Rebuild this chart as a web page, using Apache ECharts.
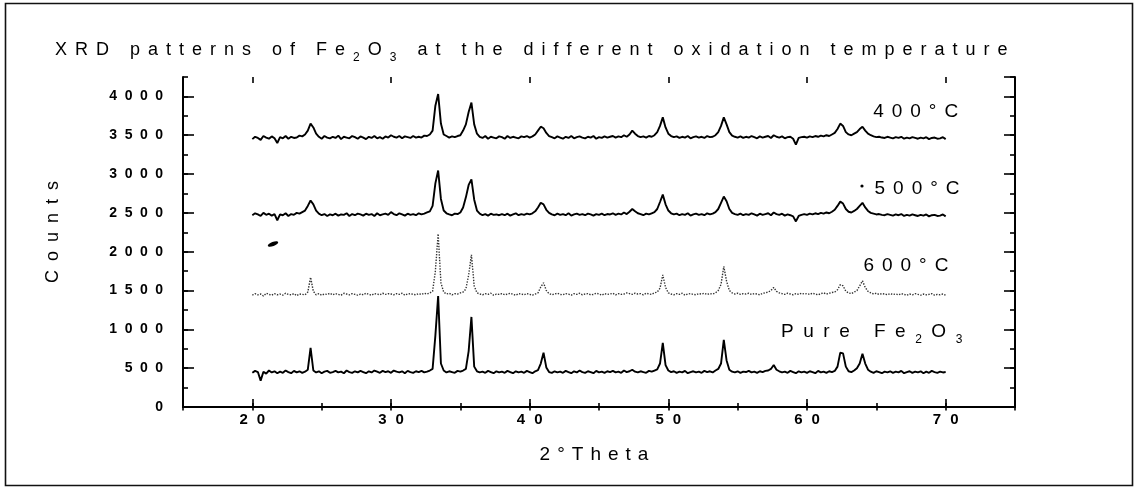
<!DOCTYPE html>
<html><head><meta charset="utf-8">
<script src="https://cdn.jsdelivr.net/npm/echarts@6/dist/echarts.min.js"></script>
<style>html,body{margin:0;padding:0;background:#fff}#c{width:1138px;height:487px}</style>
</head><body><div id="c"></div>
<script>
// ---- data (2θ grid: 20.0 .. 70.0, step 0.2) ----
const X_START = 20, X_STEP = 0.2;
const T400 = [
3450,3480,3465,3440,3490,3470,3455,3485,3460,3400,
3475,3460,3490,3455,3480,3465,3470,3495,3485,3510,
3560,3650,3600,3520,3480,3455,3490,3470,3460,3480,
3465,3495,3450,3480,3470,3460,3490,3475,3455,3485,
3470,3450,3480,3465,3490,3460,3475,3455,3485,3470,
3500,3480,3470,3490,3460,3485,3475,3465,3490,3470,
3480,3470,3495,3490,3510,3560,3880,4030,3650,3510,
3490,3470,3485,3475,3490,3500,3560,3640,3800,3920,
3640,3520,3480,3465,3490,3455,3480,3470,3460,3485,
3475,3455,3490,3465,3480,3470,3460,3485,3475,3490,
3470,3485,3510,3560,3610,3590,3530,3490,3475,3460,
3485,3470,3455,3480,3465,3490,3460,3475,3485,3470,
3460,3480,3470,3490,3455,3475,3465,3485,3470,3480,
3490,3470,3485,3475,3500,3480,3510,3560,3520,3490,
3475,3485,3470,3490,3480,3500,3540,3620,3730,3600,
3520,3490,3475,3485,3465,3480,3470,3490,3460,3475,
3485,3470,3480,3465,3490,3475,3480,3500,3540,3620,
3730,3640,3540,3495,3480,3470,3485,3465,3480,3470,
3490,3475,3460,3485,3470,3480,3490,3465,3500,3480,
3470,3485,3460,3475,3480,3455,3380,3465,3475,3480,
3470,3485,3475,3490,3480,3495,3485,3500,3490,3510,
3530,3580,3650,3620,3540,3510,3500,3520,3540,3580,
3610,3560,3520,3500,3485,3475,3480,3470,3465,3480,
3470,3460,3475,3465,3480,3455,3470,3460,3475,3465,
3455,3470,3460,3475,3450,3465,3470,3455,3460,3475,3450];
const T500 = [
2470,2495,2480,2460,2500,2475,2490,2465,2485,2405,
2480,2470,2495,2460,2485,2475,2500,2490,2510,2530,
2590,2660,2610,2530,2490,2470,2485,2460,2480,2470,
2490,2465,2480,2475,2495,2460,2485,2470,2490,2480,
2465,2490,2475,2485,2460,2495,2470,2480,2490,2475,
2510,2485,2470,2495,2480,2465,2490,2475,2485,2470,
2495,2480,2490,2505,2520,2590,2880,3045,2680,2530,
2495,2480,2470,2490,2485,2505,2570,2700,2860,2930,
2670,2530,2490,2470,2485,2465,2490,2475,2480,2470,
2485,2470,2490,2465,2480,2495,2470,2485,2475,2490,
2480,2495,2520,2570,2630,2610,2540,2500,2480,2470,
2490,2475,2485,2470,2495,2465,2480,2490,2475,2485,
2470,2490,2480,2465,2485,2475,2490,2470,2485,2480,
2495,2475,2490,2480,2505,2485,2515,2550,2520,2495,
2485,2470,2490,2480,2495,2510,2550,2640,2735,2610,
2530,2495,2480,2490,2470,2485,2475,2495,2465,2480,
2490,2475,2485,2470,2495,2480,2490,2510,2550,2630,
2710,2650,2550,2500,2485,2475,2490,2470,2485,2475,
2495,2480,2465,2490,2475,2485,2495,2470,2505,2485,
2475,2490,2465,2480,2470,2455,2390,2460,2475,2485,
2475,2490,2480,2495,2485,2500,2490,2505,2495,2515,
2540,2590,2645,2620,2550,2515,2505,2525,2550,2590,
2630,2570,2525,2500,2490,2480,2485,2475,2470,2485,
2475,2465,2480,2470,2485,2460,2475,2465,2480,2470,
2460,2475,2465,2480,2455,2470,2475,2460,2465,2480,2455];
const T600 = [
1440,1460,1445,1455,1430,1465,1450,1440,1460,1445,
1455,1440,1465,1450,1445,1460,1435,1455,1450,1445,
1480,1670,1490,1445,1460,1440,1455,1450,1465,1445,
1460,1450,1440,1465,1455,1445,1460,1450,1440,1455,
1445,1465,1450,1440,1460,1455,1445,1465,1450,1460,
1455,1445,1460,1450,1465,1440,1455,1460,1450,1445,
1460,1450,1465,1455,1470,1490,1750,2230,1600,1480,
1455,1465,1445,1460,1455,1470,1480,1520,1700,1960,
1560,1470,1455,1445,1460,1450,1465,1440,1455,1450,
1460,1445,1455,1465,1450,1440,1460,1455,1445,1460,
1450,1440,1455,1470,1545,1600,1500,1460,1445,1455,
1465,1450,1445,1460,1455,1440,1460,1450,1465,1445,
1455,1460,1445,1450,1465,1455,1440,1460,1450,1455,
1465,1445,1460,1450,1455,1470,1460,1450,1465,1455,
1460,1445,1465,1455,1450,1470,1480,1530,1700,1540,
1470,1455,1445,1460,1450,1465,1440,1455,1460,1450,
1445,1460,1455,1465,1450,1460,1455,1470,1500,1580,
1810,1620,1500,1470,1455,1465,1450,1460,1455,1465,
1450,1460,1455,1445,1465,1470,1480,1500,1540,1490,
1470,1460,1450,1465,1455,1445,1460,1450,1465,1455,
1460,1450,1465,1455,1445,1460,1470,1455,1465,1475,
1480,1510,1575,1560,1490,1470,1460,1480,1500,1560,
1625,1540,1490,1470,1455,1465,1450,1460,1455,1445,
1460,1450,1455,1445,1460,1450,1440,1455,1445,1460,
1450,1440,1455,1445,1450,1460,1440,1450,1445,1455,1440];
const PURE = [
440,465,450,340,455,430,470,445,460,435,
455,440,470,450,435,465,445,460,440,455,
480,760,470,445,460,435,455,465,440,450,
465,445,455,435,470,450,440,460,445,465,
450,435,460,445,470,455,440,465,450,460,
440,470,455,445,460,435,465,450,440,460,
450,465,445,455,470,490,920,1430,560,470,
445,460,450,440,465,455,470,490,720,1160,
520,460,445,455,440,465,450,435,460,445,
455,440,465,450,435,460,445,455,440,465,
450,435,460,475,560,700,510,450,440,460,
445,455,440,465,450,435,460,445,470,450,
440,460,450,435,465,445,455,440,460,450,
465,445,455,440,470,450,460,480,455,445,
460,450,440,465,455,470,485,560,825,540,
470,450,460,440,455,445,465,435,450,460,
445,455,440,465,450,460,445,470,490,560,
865,600,480,455,445,460,440,455,450,465,
445,455,440,460,450,465,470,490,540,480,
460,445,455,440,465,450,435,460,445,455,
440,460,450,435,465,445,455,440,460,450,
465,520,700,690,520,460,450,470,500,560,
685,560,480,455,440,460,450,435,455,445,
460,440,455,445,465,435,450,460,440,455,
445,460,435,455,440,465,450,440,455,445,450];
const X_MIN = 15, X_MAX = 75, X_MAJOR_MIN = 20, X_MAJOR_MAX = 70;
const Y_MIN = 0, Y_MAX = 4250;
const TITLE_PARTS = [['XRD patterns of Fe','t'],['2','s'],['O','t'],['3','s'],[' at the different oxidation temperature','t']];
const Y_NAME = 'Counts';
const X_NAME = '2°Theta';
const SERIES_NAMES = ['400°C','500°C','600°C','Pure Fe2O3'];
const SERIES_LABEL_PARTS = [
  [['400°C','t']], [['500°C','t']], [['600°C','t']],
  [['Pure Fe','t'],['2','s'],['O','t'],['3','s']]
];

// ---- helpers ----
const FONT = '"Liberation Sans", Arial, sans-serif';
function track(parts, gap) {
  const out = [];
  parts.forEach(([txt, st]) => { for (const ch of txt) out.push('{' + st + '|' + ch + '}'); });
  return out.join('{' + gap + '| }');
}
const pts = ys => ys.map((y, i) => [+(X_START + i * X_STEP).toFixed(1), y]);

const GL = 183, GR = 123, GT = 77, GB = 80;
const W = 1138;
const pxPerX = (W - GL - GR) / (X_MAX - X_MIN);
const G0 = {left: GL, right: GR, top: GT, bottom: GB, outerBoundsMode: 'none'};
const G2 = {left: GL + (X_MAJOR_MIN - X_MIN) * pxPerX, right: GR + (X_MAX - X_MAJOR_MAX) * pxPerX, top: GT, bottom: GB, outerBoundsMode: 'none'};

const AX = {color: '#000', width: 2};
const tickStyle = {color: '#000', width: 1.6};

const chart = echarts.init(document.getElementById('c'), null, {renderer: 'canvas'});
const option = {
  animation: false,
  backgroundColor: '#fff',
  title: {
    text: track(TITLE_PARTS, 'g'), left: 50, top: 31,
    textStyle: {
      fontWeight: 'normal',
      rich: {
        t: {fontFamily: FONT, fontSize: 18, fontWeight: 'normal', color: '#000', lineHeight: 28, verticalAlign: 'middle'},
        s: {fontFamily: FONT, fontSize: 12, fontWeight: 'normal', color: '#000', lineHeight: 28, verticalAlign: 'bottom'},
        g: {fontFamily: FONT, fontSize: 18, fontWeight: 'normal', width: 8, lineHeight: 28}
      }
    }
  },
  grid: [G0, G0, G2],
  xAxis: [
    {gridIndex: 0, type: 'value', position: 'bottom', min: X_MIN, max: X_MAX, interval: 5,
     axisLine: {lineStyle: AX}, axisTick: {inside: true, length: 4, lineStyle: tickStyle},
     axisLabel: {show: false}, splitLine: {show: false}},
    {gridIndex: 0, type: 'value', position: 'top', min: X_MIN, max: X_MAX, interval: 5,
     axisLine: {lineStyle: AX}, axisTick: {inside: true, length: 3.5, lineStyle: tickStyle},
     axisLabel: {show: false}, splitLine: {show: false}},
    {gridIndex: 1, type: 'value', min: X_MIN, max: X_MAX, show: false},
    {gridIndex: 2, type: 'value', position: 'bottom', min: X_MAJOR_MIN, max: X_MAJOR_MAX, interval: 10,
     axisLine: {show: false}, axisTick: {inside: true, length: 8, lineStyle: tickStyle},
     axisLabel: {show: true, margin: 5, formatter: v => track([[String(v), 'd']], 'g'),
       rich: {d: {fontFamily: FONT, fontSize: 15, fontWeight: 'bold', color: '#000'}, g: {fontSize: 15, width: 9}}},
     splitLine: {show: false}},
    {gridIndex: 2, type: 'value', position: 'top', min: X_MAJOR_MIN, max: X_MAJOR_MAX, interval: 10,
     axisLine: {show: false}, axisTick: {inside: true, length: 6, lineStyle: tickStyle},
     axisLabel: {show: false}, splitLine: {show: false}}
  ],
  yAxis: [
    {gridIndex: 0, type: 'value', position: 'left', min: Y_MIN, max: Y_MAX, interval: 250,
     axisLine: {lineStyle: AX}, axisTick: {inside: true, length: 5, lineStyle: tickStyle},
     axisLabel: {show: false}, splitLine: {show: false}},
    {gridIndex: 0, type: 'value', position: 'right', min: Y_MIN, max: Y_MAX, interval: 250,
     axisLine: {lineStyle: AX}, axisTick: {inside: true, length: 5, lineStyle: tickStyle},
     axisLabel: {show: false}, splitLine: {show: false}},
    {gridIndex: 1, type: 'value', position: 'left', min: Y_MIN, max: Y_MAX, interval: 500,
     axisLine: {show: false}, axisTick: {inside: true, length: 11, lineStyle: tickStyle},
     axisLabel: {show: true, margin: 20, showMaxLabel: false, formatter: v => track([[String(v), 'd']], 'g'),
       rich: {d: {fontFamily: FONT, fontSize: 14, fontWeight: 'bold', color: '#000'}, g: {fontSize: 14, width: 7.5}}},
     splitLine: {show: false}},
    {gridIndex: 1, type: 'value', position: 'right', min: Y_MIN, max: Y_MAX, interval: 500,
     axisLine: {show: false}, axisTick: {inside: true, length: 11, lineStyle: tickStyle},
     axisLabel: {show: false}, splitLine: {show: false}},
    {gridIndex: 2, type: 'value', min: Y_MIN, max: Y_MAX, show: false}
  ],
  series: [
    {name: SERIES_NAMES[0], type: 'line', data: pts(T400), xAxisIndex: 0, yAxisIndex: 0, symbol: 'none',
     lineStyle: {color: '#000', width: 1.9}},
    {name: SERIES_NAMES[1], type: 'line', data: pts(T500), xAxisIndex: 0, yAxisIndex: 0, symbol: 'none',
     lineStyle: {color: '#000', width: 1.9}},
    {name: SERIES_NAMES[2], type: 'line', data: pts(T600), xAxisIndex: 0, yAxisIndex: 0, symbol: 'none',
     lineStyle: {color: '#333', width: 1.4, type: 'dotted'}},
    {name: SERIES_NAMES[3], type: 'line', data: pts(PURE), xAxisIndex: 0, yAxisIndex: 0, symbol: 'none',
     lineStyle: {color: '#000', width: 1.9}}
  ]
};
chart.setOption(option);

// series labels anchored in data space (right edge, vertical middle)
const LABEL_AT = [[70.9, 3800], [71.0, 2810], [70.2, 1820], [71.2, 968]];
const richLbl = {
  t: {fontFamily: FONT, fontSize: 19, color: '#000', lineHeight: 28, verticalAlign: 'middle'},
  s: {fontFamily: FONT, fontSize: 12, color: '#000', lineHeight: 28, verticalAlign: 'bottom'},
  g: {fontSize: 19, width: 8, lineHeight: 28}
};
const richPure = {
  t: {fontFamily: FONT, fontSize: 19, color: '#000', lineHeight: 28, verticalAlign: 'middle'},
  s: {fontFamily: FONT, fontSize: 12, color: '#000', lineHeight: 28, verticalAlign: 'bottom'},
  g: {fontSize: 19, width: 9.5, lineHeight: 28}
};
const labelEls = SERIES_LABEL_PARTS.map((parts, i) => {
  const p = chart.convertToPixel({gridIndex: 0}, LABEL_AT[i]);
  return {type: 'text', x: p[0], y: p[1], z: 10,
    style: {text: track(parts, 'g'), rich: i === 3 ? richPure : richLbl, align: 'right', textAlign: 'right',
      verticalAlign: 'middle', textVerticalAlign: 'middle', fill: '#000'}};
});
const nameRich = {
  t: {fontFamily: FONT, fontSize: 18, color: '#000'},
  g: {fontSize: 18, width: 9}
};
const xNameRich = {
  t: {fontFamily: FONT, fontSize: 19, color: '#000'},
  g: {fontSize: 19, width: 7}
};
chart.setOption({
  graphic: [
    {type: 'rect', shape: {x: 5.5, y: 3.5, width: 1127, height: 482}, style: {fill: null, stroke: '#111', lineWidth: 1.6}, z: 0},
    {type: 'text', x: 53, y: 232, rotation: Math.PI / 2, z: 10,
     style: {text: track([[Y_NAME, 't']], 'g'), rich: nameRich, align: 'center', textAlign: 'center', verticalAlign: 'middle', textVerticalAlign: 'middle'}},
    {type: 'text', x: 594, y: 455, z: 10,
     style: {text: track([[X_NAME, 't']], 'g'), rich: xNameRich, align: 'center', textAlign: 'center', verticalAlign: 'middle', textVerticalAlign: 'middle'}},
    {type: 'ellipse', shape: {cx: 273, cy: 244, rx: 5.5, ry: 2}, rotation: 0.35, originX: 273, originY: 244, style: {fill: '#000'}, z: 10},
    {type: 'circle', shape: {cx: 862, cy: 186, r: 1.6}, style: {fill: '#000'}, z: 10}
  ].concat(labelEls)
});
</script></body></html>
